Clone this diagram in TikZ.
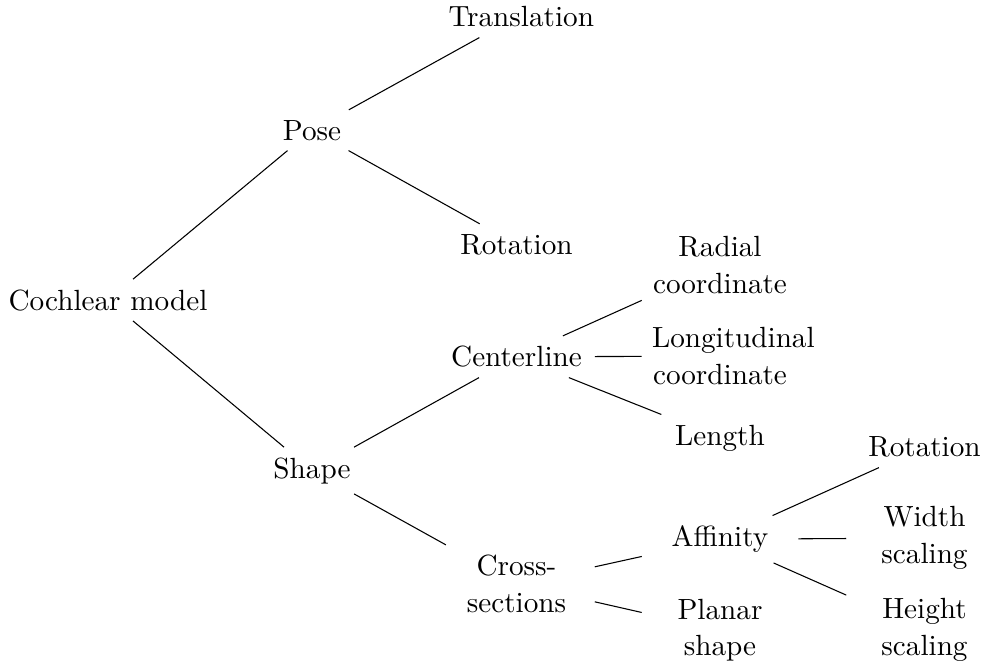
\documentclass[tikz,border=0pt]{standalone}
\begin{document}
\begin{tikzpicture}[x=0.375pt,y=-0.375pt,
  every node/.style={font=\fontsize{10.95pt}{13.87pt}\selectfont, inner sep=3.65pt},
  lbl/.style={text width=51pt, align=center, anchor=base},
  rootlbl/.style={anchor=base},
  conn/.style={draw=black, line width=0.4pt}]
\useasboundingbox (0,0) rectangle (984,664);
\node[rootlbl] (root) at (108,310) {Cochlear model};
\node[lbl] (pose) at (312,140) {Pose};
\node[lbl] (shape) at (312,478) {Shape};
\node[lbl] (trans) at (516.5,27) {Translation};
\node[lbl] (rot) at (516.5,254) {Rotation};
\node[lbl] (center) at (516.5,366.7) {Centerline};
\node[lbl] (cross) at (516.5,575.7) {Cross-\\sections};
\node[lbl] (radial) at (720,256.7) {Radial\\coordinate};
\node[lbl] (longi) at (720,347.7) {Longitudinal\\coordinate};
\node[lbl] (length) at (720,445) {Length};
\node[lbl] (affin) at (720,546.7) {Affinity};
\node[lbl] (planar) at (720,619) {Planar\\shape};
\node[lbl] (rotb) at (924.5,456.7) {Rotation};
\node[lbl] (width) at (924.5,526.7) {Width\\scaling};
\node[lbl] (height) at (924.5,618.3) {Height\\scaling};
\draw[conn] (root) -- (pose);
\draw[conn] (root) -- (shape);
\draw[conn] (pose) -- (trans);
\draw[conn] (pose) -- (rot);
\draw[conn] (shape) -- (center);
\draw[conn] (shape) -- (cross);
\draw[conn] (center) -- (radial);
\draw[conn] (center) -- (longi);
\draw[conn] (center) -- (length);
\draw[conn] (cross) -- (affin);
\draw[conn] (cross) -- (planar);
\draw[conn] (affin) -- (rotb);
\draw[conn] (affin) -- (width);
\draw[conn] (affin) -- (height);
\end{tikzpicture}
\end{document}
